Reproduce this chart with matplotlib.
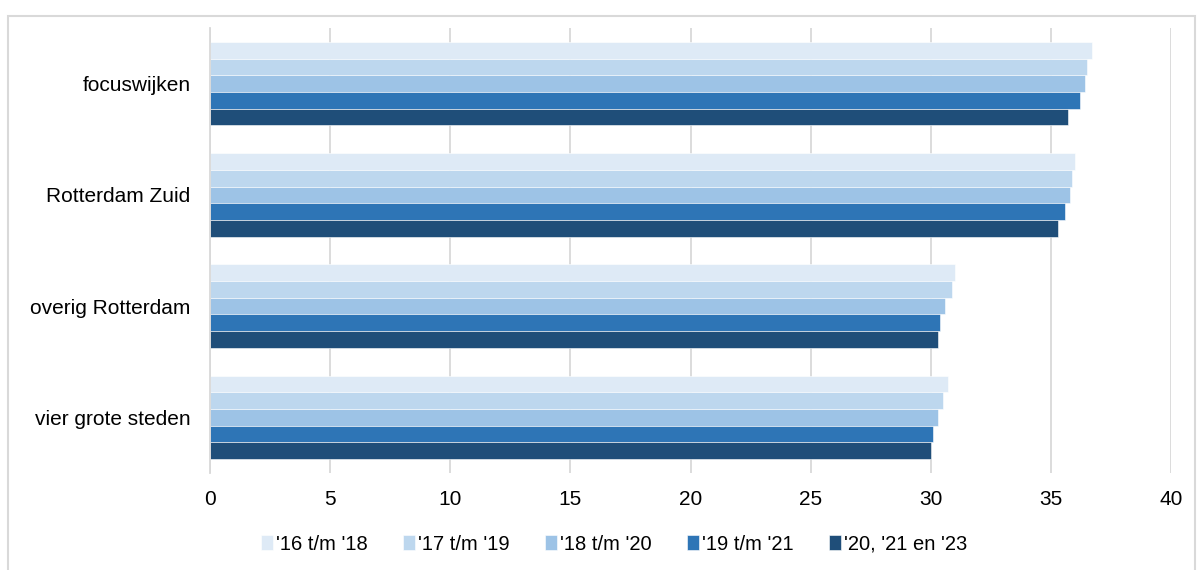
import numpy as np
import matplotlib
matplotlib.use("Agg")
import matplotlib.pyplot as plt
from matplotlib.patches import Rectangle

plt.rcParams['font.family'] = ['Liberation Sans', 'DejaVu Sans']

categories = ['focuswijken', 'Rotterdam Zuid', 'overig Rotterdam', 'vier grote steden']
series = ["'16 t/m '18", "'17 t/m '19", "'18 t/m '20", "'19 t/m '21", "'20, '21 en '23"]
values = [
    [36.7, 36.0, 31.0, 30.7],
    [36.5, 35.9, 30.9, 30.5],
    [36.4, 35.8, 30.6, 30.3],
    [36.2, 35.6, 30.4, 30.1],
    [35.7, 35.3, 30.3, 30.0],
]
colors = ['#DEEAF6', '#BDD7EE', '#9DC3E6', '#2E75B6', '#1F4E79']

fig = plt.figure(figsize=(11.98, 5.70), dpi=100)
ax = fig.add_axes([210 / 1198, 1 - 473 / 570, 961 / 1198, 445 / 570])

# outer frame of the chart
fig.patches.append(Rectangle((8 / 1198, -0.1), 1187 / 1198, 1.1 - 16 / 570,
                             transform=fig.transFigure, fill=False,
                             edgecolor='#D9D9D9', lw=1.5))

n = len(series)
h = 0.75 / n
y = np.arange(len(categories))
for i, (name, vals) in enumerate(zip(series, values)):
    ax.barh(y - 0.375 + h * (i + 0.5), vals, height=h, color=colors[i],
            label=name, edgecolor='white', linewidth=0.4)

ax.set_xlim(0, 40)
ax.set_ylim(len(categories) - 0.5, -0.5)
ax.set_xticks(range(0, 41, 5))
ax.set_yticks(y)
ax.set_yticklabels(categories)
ax.tick_params(axis='both', length=0, labelsize=15, colors='black')
ax.tick_params(axis='x', pad=12)
ax.tick_params(axis='y', pad=14)
ax.grid(axis='x', color='#D9D9D9', lw=1.3)
ax.set_axisbelow(True)
for s in ['top', 'right', 'bottom']:
    ax.spines[s].set_visible(False)
ax.spines['left'].set_color('#D9D9D9')
ax.spines['left'].set_linewidth(1.3)

ax.legend(loc='center', bbox_to_anchor=(614 / 1198, 1 - 544 / 570),
          bbox_transform=fig.transFigure, ncol=5, frameon=False,
          fontsize=14.5, handlelength=0.6, handleheight=0.75,
          handletextpad=0.15, columnspacing=1.75)

fig.savefig('out.png', dpi=100)
